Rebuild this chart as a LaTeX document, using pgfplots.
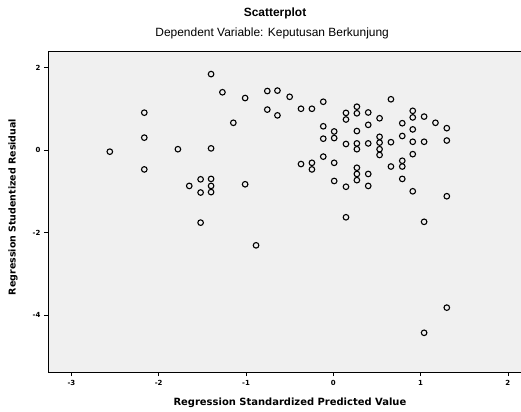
\documentclass[border=0pt]{standalone}
\usepackage{pgfplots}
\pgfplotsset{compat=1.18}
\usepackage{fontspec}
\setmainfont{Liberation Sans}
\newfontfamily\lblfont{DejaVu Sans}
\definecolor{bgc}{RGB}{240,240,240}
\pgfplotstableread{
x y
-2.56 -0.04
-2.165 0.905
-2.165 0.30
-2.165 -0.47
-1.78 0.02
-1.40 1.84
-1.40 0.04
-1.65 -0.87
-1.52 -0.71
-1.52 -1.03
-1.40 -0.70
-1.40 -0.87
-1.40 -1.02
-1.52 -1.76
-1.27 1.40
-1.145 0.66
-1.01 1.26
-1.01 -0.83
-0.885 -2.31
-0.756 1.43
-0.756 0.98
-0.64 1.44
-0.64 0.84
-0.50 1.29
-0.37 1.00
-0.245 1.00
-0.115 1.17
-0.37 -0.34
-0.245 -0.31
-0.245 -0.47
-0.115 0.575
-0.115 0.275
-0.115 -0.16
0.01 0.45
0.01 0.29
0.01 -0.31
0.01 -0.75
0.145 0.90
0.145 0.74
0.145 0.146
0.145 -0.89
0.145 -1.63
0.27 1.05
0.27 0.89
0.27 0.46
0.27 0.16
0.27 0.02
0.27 -0.43
0.27 -0.58
0.27 -0.73
0.40 0.91
0.40 0.61
0.40 0.16
0.40 -0.58
0.40 -0.87
0.53 0.77
0.53 0.32
0.53 0.18
0.53 0.02
0.53 -0.12
0.66 1.23
0.66 0.19
0.66 -0.40
0.79 0.65
0.79 0.34
0.79 -0.26
0.79 -0.40
0.79 -0.70
0.91 0.95
0.91 0.79
0.91 0.50
0.91 0.20
0.91 -0.10
0.91 -1.00
1.04 0.81
1.04 0.20
1.04 -1.74
1.17 0.66
1.30 0.53
1.30 0.23
1.30 -1.12
1.30 -3.82
1.04 -4.43
}\resid
\begin{document}
\begin{tikzpicture}
\begin{axis}[
  at={(0,0)}, anchor=south west,
  scale only axis, width=480bp, height=321bp,
  xmin=-3.268, xmax=2.230, ymin=-5.38, ymax=2.40,
  xtick={-3,-2,-1,0,1,2}, ytick={-4,-2,0,2},
  tick pos=left, tick align=outside, major tick length=4bp,
  tick style={black, line width=0.8bp},
  axis line style={black, line width=0.9bp},
  axis background/.style={fill=bgc},
  /pgf/number format/assume math mode=true,
  ticklabel style={font=\lblfont\fontsize{7}{8}\selectfont\bfseries},
  xticklabel style={yshift=-1bp},
  xlabel={Regression Standardized Predicted Value},
  ylabel={Regression Studentized Residual},
  xlabel style={at={(axis description cs:0.504,-0.0966)}, anchor=center, font=\lblfont\fontsize{10}{12}\selectfont\bfseries},
  ylabel style={at={(axis description cs:-0.073,0.514)}, anchor=center, font=\lblfont\fontsize{9.5}{11}\selectfont\bfseries},
  clip=false,
]
\addplot[only marks, mark=o, mark size=2.8bp, mark options={line width=1.1bp, black}] table[x=x,y=y] {\resid};
\node[font=\fontsize{12}{14}\selectfont\bfseries] at (axis description cs:0.473,1.118) {Scatterplot};
\node[font=\fontsize{12}{14}\selectfont] at (axis description cs:0.467,1.056) {Dependent Variable: Keputusan Berkunjung};
\end{axis}
\pgfresetboundingbox
\path[use as bounding box] (-48bp,-40bp) rectangle (473bp,372bp);
\end{tikzpicture}
\end{document}
